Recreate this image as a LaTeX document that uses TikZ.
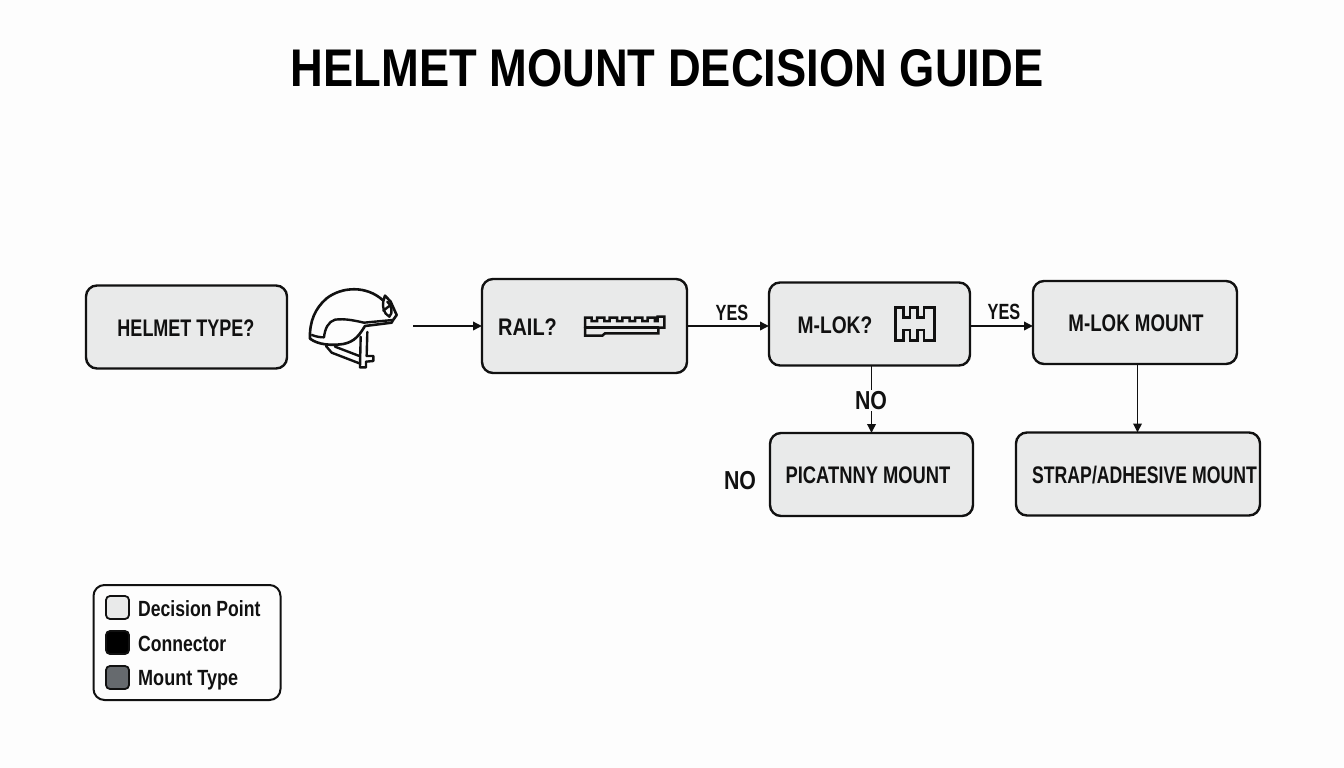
\documentclass[tikz,border=0pt]{standalone}
\usepackage{fontspec}
\usetikzlibrary{arrows.meta}
\setmainfont{Liberation Sans Bold}
\newcommand{\sx}[2]{\scalebox{#1}[1]{#2}}
\definecolor{ink}{HTML}{111111}
\definecolor{boxfill}{HTML}{E9EAEA}
\definecolor{paper}{HTML}{FDFDFD}
\definecolor{mountgrey}{HTML}{666A6E}
\tikzset{
  x=1pt,y=-1pt,
  flowbox/.style={draw=ink,fill=boxfill,line width=2.4pt,rounded corners=11pt,inner sep=0,outer sep=0},
  boxtext/.style={font=\fontsize{24}{28}\selectfont,text=ink,inner sep=0},
  edgelabel/.style={font=\fontsize{22}{26}\selectfont,text=ink,inner sep=0},
  nolabel/.style={font=\fontsize{26}{30}\selectfont,text=ink,inner sep=0},
  flow/.style={draw=ink,line width=1.8pt,-{Triangle[length=9pt,width=8.5pt]}},
  glyph/.style={draw=ink,line width=2.4pt,line join=round,line cap=round},
  swatch/.style={draw=ink,line width=1.8pt,rounded corners=4pt,minimum size=23pt,inner sep=0},
  legtext/.style={font=\fontsize{22}{26}\selectfont,text=ink,inner sep=0,anchor=west},
}
\begin{document}
\begin{tikzpicture}
\fill[paper] (0,0) rectangle (1344,768);
\useasboundingbox (0,0) rectangle (1344,768);
\node[font=\fontsize{53}{60}\selectfont,text=black,inner sep=0] (title) at (667,68) {\sx{0.855}{HELMET MOUNT DECISION GUIDE}};

% boxes
\node[flowbox,minimum width=201pt,minimum height=83pt] (helmet) at (186.5,327) {};
\node[boxtext] (helmettxt) at (186,328) {\sx{0.75}{HELMET TYPE?}};
\node[flowbox,minimum width=205pt,minimum height=94pt] (rail) at (584.5,326) {};
\node[boxtext,anchor=west] (railtxt) at (498,327) {\sx{0.83}{RAIL?}};
\node[flowbox,minimum width=201pt,minimum height=83pt] (mlok) at (869.5,324) {};
\node[boxtext] (mloktxt) at (835,325) {\sx{0.80}{M-LOK?}};
\node[flowbox,minimum width=204pt,minimum height=83pt] (mlokm) at (1135,322.5) {};
\node[boxtext] (mlokmtxt) at (1136,323) {\sx{0.78}{M-LOK MOUNT}};
\node[flowbox,minimum width=203pt,minimum height=83pt] (pica) at (871.5,474.5) {};
\node[boxtext] (picatxt) at (868,475) {\sx{0.765}{PICATNNY MOUNT}};
\node[flowbox,minimum width=244pt,minimum height=83pt] (strap) at (1138,474) {};
\node[boxtext] (straptxt) at (1144.5,475) {\sx{0.736}{STRAP/ADHESIVE MOUNT}};

% helmet icon
\begin{scope}[shift={(300,280)},x=0.3333pt,y=-0.3333pt]
 \draw[glyph] (182,170) -- (180,262) -- (198,262) -- (198,245) -- (220,243) -- (220,228) -- (200,228) -- (202,156);
 \draw[glyph] (78,198) -- (95,218) -- (178,250);
 \draw[glyph] (105,200) -- (178,228);
 \draw[glyph,line width=2.6pt] (30,176) .. controls (28,125) and (45,85) .. (80,55) .. controls (125,20) and (200,15) .. (250,62) -- (255,47) -- (272,65) -- (290,105) -- (278,122) -- (275,128) -- (195,138) .. controls (178,165) and (165,185) .. (130,192) .. controls (95,197) and (55,195) .. (30,176) -- cycle;
 \draw[glyph] (36,165) .. controls (48,170) and (60,172) .. (72,172) .. controls (75,145) and (85,125) .. (105,119) .. controls (135,115) and (165,122) .. (192,128) -- (278,120);
 \draw[glyph] (250,62) .. controls (247,80) and (250,100) .. (268,110) .. controls (280,100) and (275,75) .. (262,65);
 \draw[glyph] (250,92) -- (268,78);
\end{scope}

% rail icon
\begin{scope}[shift={(575,305)},x=0.3333pt,y=-0.3333pt]
 \draw[glyph,line width=2.5pt,line join=miter] (30,92) -- (30,38) -- (50,38) -- (50,48) -- (66,48) -- (66,38) -- (88,38) -- (88,48) -- (104,48) -- (104,38) -- (126,38) -- (126,48) -- (142,48) -- (142,38) -- (164,38) -- (164,48) -- (180,48) -- (180,38) -- (202,38) -- (202,48) -- (218,48) -- (218,38) -- (240,38) -- (240,48) -- (248,48) -- (248,35) -- (268,35) -- (268,68) -- (250,68) -- (250,85) -- (90,85) -- (82,92) -- cycle;
 \draw[glyph,line width=2.5pt] (30,68) -- (250,68);
\end{scope}

% M-LOK icon
\begin{scope}[shift={(700,270)},x=0.3333pt,y=-0.3333pt]
 \draw[glyph,line width=2.7pt,line join=miter] (587,112) -- (610,112) -- (610,142) -- (630,142) -- (630,112) -- (652,112) -- (652,142) -- (672,142) -- (672,112) -- (704,112) -- (704,212) -- (672,212) -- (672,180) -- (652,180) -- (652,212) -- (630,212) -- (630,180) -- (610,180) -- (610,212) -- (587,212) -- cycle;
\end{scope}

% connectors
\coordinate (hs) at (413,326);
\draw[flow] (hs) -- (rail.west |- hs);
\draw[flow] (rail.east |- mlok.west) ++(0,2) coordinate (ra) -- (mlok.west |- ra);
\draw[flow] (mlok.east |- mlokm.west) ++(0,3.5) coordinate (mb) -- (mlokm.west |- mb);
\draw[flow] (mlok.south -| pica.north) coordinate (mc) -- (pica.north);
\draw[flow] (mlokm.south) ++(2.5,0) coordinate (md) -- (md |- strap.north);

% labels
\node[edgelabel] (yes1) at (732,313) {\sx{0.74}{YES}};
\node[edgelabel] (yes2) at (1004,311.5) {\sx{0.74}{YES}};
\node[nolabel,fill=paper,inner ysep=1pt] (no1) at (871,400.5) {\sx{0.82}{NO}};
\node[nolabel] (no2) at (740,481) {\sx{0.82}{NO}};

% legend
\node[draw=ink,line width=2pt,rounded corners=11pt,fill=paper,minimum width=187pt,minimum height=115pt,inner sep=0] (legend) at (187,642.5) {};
\node[swatch,fill=boxfill] (s1) at (117.5,607.5) {};
\node[swatch,fill=black] (s2) at (117.5,642.5) {};
\node[swatch,fill=mountgrey] (s3) at (117.5,677.5) {};
\node[legtext] (l1) at (138,609) {\sx{0.80}{Decision Point}};
\node[legtext] (l2) at (138,644) {\sx{0.80}{Connector}};
\node[legtext] (l3) at (138,680) {\sx{0.82}{Mount Type}};
\end{tikzpicture}
\end{document}
